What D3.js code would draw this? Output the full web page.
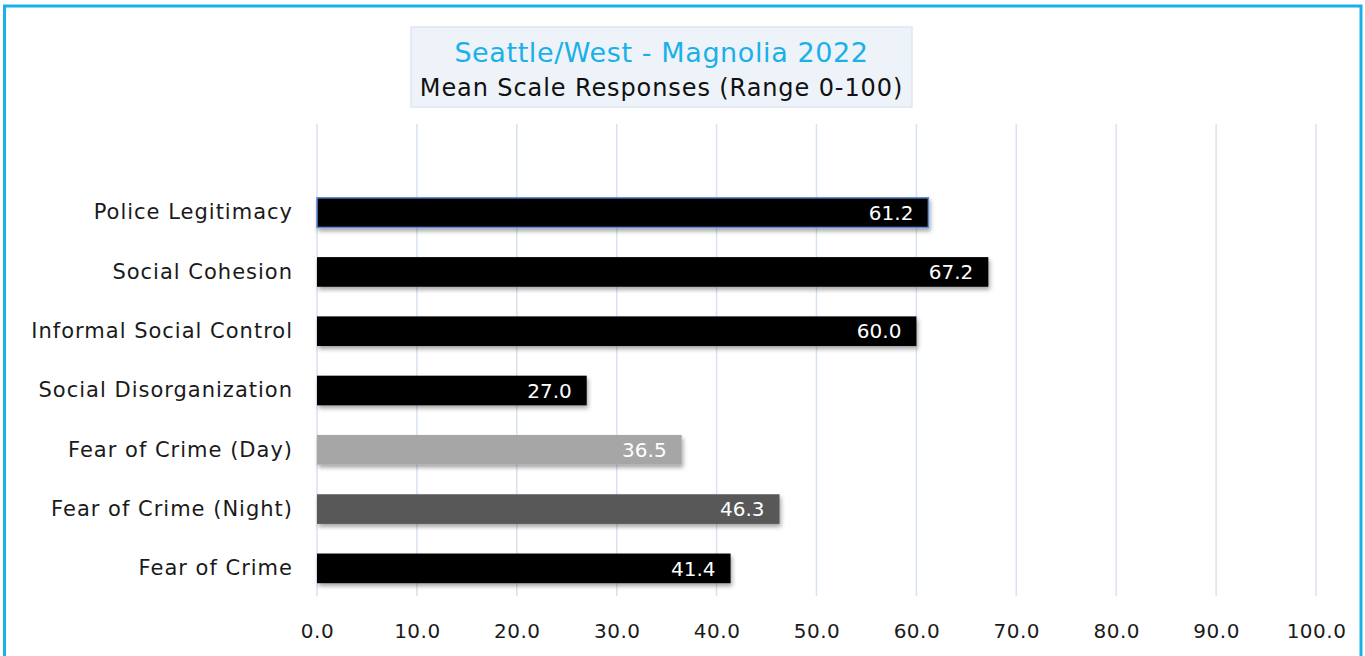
<!DOCTYPE html>
<html><head><meta charset="utf-8">
<script src="https://cdn.jsdelivr.net/npm/d3@7"></script>
<style>body{margin:0;background:#fff;}svg{display:block;}</style>
</head><body>
<svg id="c" width="1365" height="656"></svg>
<script>
const categories = ["Police Legitimacy","Social Cohesion","Informal Social Control","Social Disorganization","Fear of Crime (Day)","Fear of Crime (Night)","Fear of Crime"];
const values = [61.2, 67.2, 60.0, 27.0, 36.5, 46.3, 41.4];
const barColors = ["#000000","#000000","#000000","#000000","#a6a6a6","#595959","#000000"];
const ticks = [0,10,20,30,40,50,60,70,80,90,100];
const title1 = "Seattle/West - Magnolia 2022";
const title2 = "Mean Scale Responses (Range 0-100)";

const FONT = "'DejaVu Sans', sans-serif";
const svg = d3.select("#c");
const defs = svg.append("defs");
const f = defs.append("filter").attr("id","sh").attr("x","-5%").attr("y","-30%").attr("width","110%").attr("height","180%");
f.append("feDropShadow").attr("dx",1.5).attr("dy",3).attr("stdDeviation",2).attr("flood-color","#000").attr("flood-opacity",0.35);

// outer border
svg.append("rect").attr("x",4.5).attr("y",6).attr("width",1356.5).attr("height",660)
  .attr("fill","#fff").attr("stroke","#1ab0e8").attr("stroke-width",3);

const x = d3.scaleLinear().domain([0,100]).range([317,1316]);
const y = d3.scaleBand().domain(categories).range([183,598]).paddingInner(0.5).paddingOuter(0.25);

// gridlines
svg.append("g").selectAll("line").data(ticks).join("line")
  .attr("x1",d=>x(d)).attr("x2",d=>x(d)).attr("y1",124).attr("y2",596)
  .attr("stroke","#d9e2f0").attr("stroke-width",1.5);

// x axis labels
const xa = svg.append("g").attr("transform","translate(0,596)")
  .call(d3.axisBottom(x).tickValues(ticks).tickFormat(d3.format(".1f")).tickSize(0).tickPadding(28));
xa.select(".domain").remove();
xa.selectAll("text").attr("font-family",FONT).attr("font-size",20).attr("letter-spacing",0.5).attr("fill","#1a1a1a");

// y axis labels
const ya = svg.append("g").attr("transform","translate(317,0)")
  .call(d3.axisLeft(y).tickSize(0).tickPadding(24));
ya.select(".domain").remove();
ya.selectAll("text").attr("font-family",FONT).attr("font-size",21).attr("letter-spacing",1).attr("fill","#1a1a1a");

// bars
const data = categories.map((c,i)=>({c, v:values[i], col:barColors[i]}));
svg.append("g").selectAll("rect").data(data).join("rect")
  .attr("x",x(0)).attr("y",d=>y(d.c)).attr("width",d=>x(d.v)-x(0)).attr("height",y.bandwidth())
  .attr("fill",d=>d.col).attr("filter","url(#sh)")
  .attr("stroke",(d,i)=>i===0?"#5b8bd6":"none").attr("stroke-width",1.5);

svg.append("g").selectAll("text").data(data).join("text")
  .attr("x",d=>x(d.v)-15).attr("y",d=>y(d.c)+y.bandwidth()/2).attr("dy","0.36em")
  .attr("text-anchor","end").attr("font-family",FONT).attr("font-size",20).attr("fill","#fff")
  .text(d=>d.v.toFixed(1));

// title box
svg.append("rect").attr("x",411).attr("y",27).attr("width",501).attr("height",80)
  .attr("fill","#eef3fa").attr("stroke","#dde6f2").attr("stroke-width",1.5);
svg.append("text").attr("x",661.5).attr("y",62).attr("text-anchor","middle")
  .attr("font-family",FONT).attr("font-size",27).attr("letter-spacing",0.6).attr("fill","#1ab0e8").text(title1);
svg.append("text").attr("x",661.5).attr("y",96).attr("text-anchor","middle")
  .attr("font-family",FONT).attr("font-size",24).attr("letter-spacing",0.9).attr("fill","#111").text(title2);
</script>
</body></html>
